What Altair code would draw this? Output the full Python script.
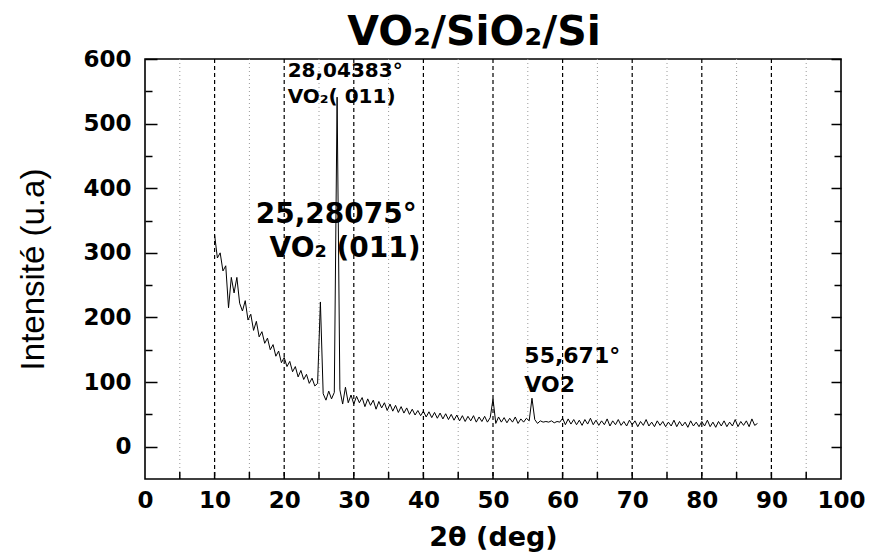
import altair as alt
import pandas as pd

# ---------------- data ----------------
theta_start = 10.0
theta_step = 0.4
intensity = [
    328, 292, 300, 272, 280, 215, 262, 238, 262, 222,   # 10.0 - 13.6
    210, 226, 196, 205, 180, 194, 170, 178, 160, 168,   # 14.0 - 17.6
    150, 158, 140, 148, 130, 138, 124, 132, 116, 124,   # 18.0 - 21.6
    108, 118, 104, 112, 98, 106, 94, 98, 224, 82,       # 22.0 - 25.6
    72, 86, 74, 84, 541, 88, 66, 92, 68, 80,            # 26.0 - 29.6
    66, 78, 68, 76, 62, 74, 64, 72, 58, 70,             # 30.0 - 33.6
    60, 68, 56, 66, 55, 64, 53, 62, 52, 60,             # 34.0 - 37.6
    50, 58, 49, 56, 48, 55, 46, 54, 45, 53,             # 38.0 - 41.6
    44, 52, 43, 51, 42, 50, 41, 49, 40, 48,             # 42.0 - 45.6
    39, 47, 40, 48, 38, 46, 39, 47, 38, 45,             # 46.0 - 49.6
    74, 36, 46, 38, 45, 37, 44, 38, 46, 36,             # 50.0 - 53.6
    43, 38, 44, 40, 75, 42, 36, 40, 38, 39,             # 54.0 - 57.6
    38, 40, 37, 39, 38, 44, 34, 43, 35, 42,             # 58.0 - 61.6
    34, 41, 33, 42, 35, 44, 34, 41, 33, 40,             # 62.0 - 65.6
    34, 43, 32, 40, 34, 42, 33, 39, 32, 41,             # 66.0 - 69.6
    34, 40, 31, 39, 33, 42, 32, 38, 31, 40,             # 70.0 - 73.6
    33, 39, 31, 38, 32, 41, 31, 39, 32, 38,             # 74.0 - 77.6
    30, 40, 32, 38, 31, 39, 32, 41, 31, 38,             # 78.0 - 81.6
    30, 39, 32, 40, 31, 38, 32, 42, 31, 39,             # 82.0 - 85.6
    33, 40, 31, 43, 33, 36,                             # 86.0 - 88.0
]
theta = [round(theta_start + theta_step * i, 1) for i in range(len(intensity))]

x_label_values = list(range(0, 101, 10))
x_major_grid = list(range(10, 100, 10))
x_minor_grid = list(range(5, 100, 10))
x_tick_marks = list(range(5, 100, 5))
y_tick_values = list(range(0, 601, 50))

title_text = "VO\u2082/SiO\u2082/Si"
x_title = "2\u03b8 (deg)"
y_title = "Intensit\u00e9 (u.a)"

small_labels = ["28,04383\u00b0", "VO\u2082( 011)"]
small_x = [20.5, 20.5]
small_y = [572, 532]

big_labels = ["25,28075\u00b0", "VO\u2082 (011)"]
big_x = [15.9, 17.9]
big_y = [346, 294]

mid_labels = ["55,671\u00b0", "VO2"]
mid_x = [54.5, 54.5]
mid_y = [130, 84]

# ---------------- chart ----------------
W, H = 696, 420
df = pd.DataFrame({"theta": theta, "I": intensity})

x_scale = alt.Scale(domain=[0, 100], nice=False, zero=False)
y_scale = alt.Scale(domain=[-50, 600], nice=False, zero=False)

x_axis = alt.Axis(
    values=x_label_values,
    title=x_title,
    grid=False,
    domain=False,
    ticks=False,
    labelFlush=False,
    labelFont="DejaVu Sans",
    labelFontWeight="bold",
    labelFontSize=23,
    labelColor="black",
    labelPadding=10,
    titleFont="DejaVu Sans",
    titleFontWeight="bold",
    titleFontSize=27,
    titleColor="black",
    titlePadding=12,
)

y_axis = alt.Axis(
    values=y_tick_values,
    labelExpr="datum.value % 100 === 0 ? datum.label : ''",
    labelFlush=False,
    title=y_title,
    grid=False,
    domain=False,
    tickColor="black",
    tickWidth=1.5,
    tickSize={"condition": {"test": "datum.value % 100 === 0", "value": -12}, "value": -7},
    labelFont="DejaVu Sans",
    labelFontWeight="bold",
    labelFontSize=23,
    labelColor="black",
    labelPadding=26,
    titleFont="Liberation Sans",
    titleFontWeight="normal",
    titleFontSize=33,
    titleColor="black",
    titlePadding=32,
)

y_axis_right = alt.Axis(
    values=y_tick_values,
    orient="right",
    labels=False,
    title=None,
    grid=False,
    domain=False,
    tickColor="black",
    tickWidth=1.5,
    tickSize={"condition": {"test": "datum.value % 100 === 0", "value": -10}, "value": -7},
)

minor_grid = alt.Chart(pd.DataFrame({"g": x_minor_grid})).mark_rule(
    color="#9a9a9a", strokeWidth=1, strokeDash=[1, 3]
).encode(x=alt.X("g:Q", scale=x_scale, axis=x_axis))

major_grid = alt.Chart(pd.DataFrame({"g": x_major_grid})).mark_rule(
    color="black", strokeWidth=1.2, strokeDash=[4, 3]
).encode(x=alt.X("g:Q", scale=x_scale, axis=x_axis))

bottom_ticks = alt.Chart(pd.DataFrame({"g": x_tick_marks})).mark_rule(
    color="black", strokeWidth=1.5
).encode(
    x=alt.X("g:Q", scale=x_scale, axis=x_axis),
    y=alt.value(H),
    y2=alt.value(H - 7),
)

line = alt.Chart(df).mark_line(color="black", strokeWidth=1).encode(
    x=alt.X("theta:Q", scale=x_scale, axis=x_axis),
    y=alt.Y("I:Q", scale=y_scale, axis=y_axis),
)


def text_layer(labels, xs, ys, size, with_right_axis=False):
    d = pd.DataFrame({"t": labels, "x": xs, "y": ys})
    yenc = alt.Y("y:Q", scale=y_scale, axis=y_axis_right if with_right_axis else None)
    return alt.Chart(d).mark_text(
        align="left", baseline="alphabetic", font="DejaVu Sans",
        fontWeight="bold", fontSize=size, color="black",
    ).encode(
        x=alt.X("x:Q", scale=x_scale, axis=x_axis),
        y=yenc,
        text="t:N",
    )


small = text_layer(small_labels, small_x, small_y, 20, with_right_axis=True)
big = text_layer(big_labels, big_x, big_y, 28)
mid = text_layer(mid_labels, mid_x, mid_y, 22)

title_mark = alt.Chart(pd.DataFrame({"t": [title_text]})).mark_text(
    align="center", baseline="alphabetic", font="DejaVu Sans",
    fontWeight="bold", fontSize=41, color="black",
).encode(
    x=alt.value(W / 2 - 19),
    y=alt.value(-14),
    text="t:N",
)

chart = alt.layer(
    minor_grid, major_grid, bottom_ticks, line, small, big, mid, title_mark
).resolve_axis(
    y="independent"
).properties(
    width=W,
    height=H,
    padding={"left": 137, "top": 51, "right": 26, "bottom": 73},
    autosize=alt.AutoSizeParams(type="none"),
    background="white",
).configure_view(stroke="black", strokeWidth=1.6)

chart.save("out.html", embed_options={"renderer": "svg", "actions": False})
